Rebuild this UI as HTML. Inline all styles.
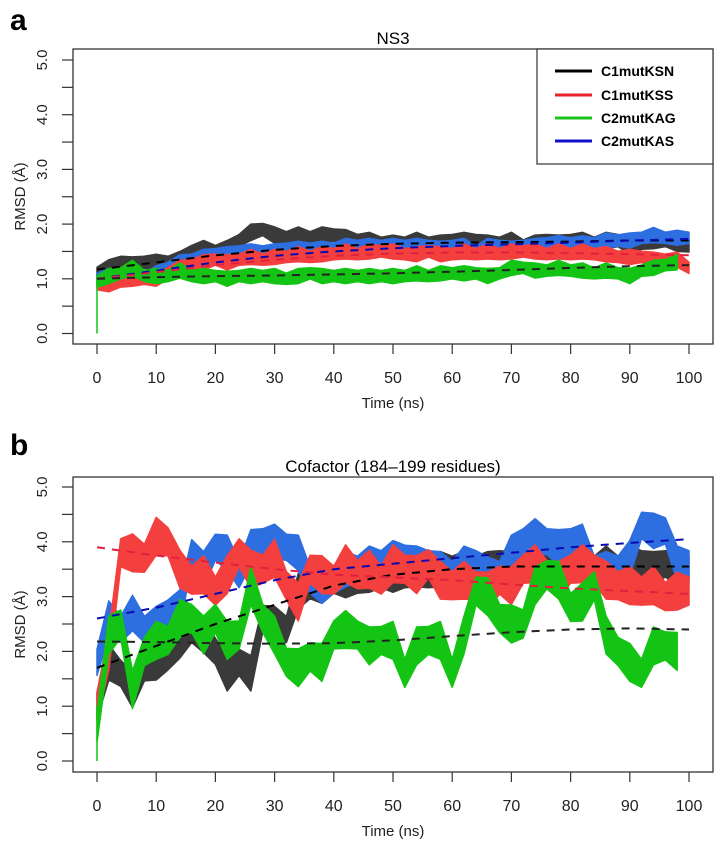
<!DOCTYPE html>
<html><head><meta charset="utf-8"><style>
body{margin:0;background:#fff}
svg{display:block;font-family:"Liberation Sans",sans-serif}
</style></head><body>
<svg id="fig" width="721" height="847" viewBox="0 0 721 847">
<text x="10" y="30" font-size="30" font-weight="bold">a</text>
<text x="10" y="455" font-size="30" font-weight="bold">b</text>
<text x="393" y="44" font-size="17" text-anchor="middle">NS3</text>
<text x="393" y="472" font-size="17" text-anchor="middle">Cofactor (184–199 residues)</text>
<g id="pa"></g>
<g id="pb"></g>
<g>
<rect x="537" y="49" width="176" height="115" fill="#fff" stroke="#333" stroke-width="1.2"/>
<g><line x1="555" y1="71" x2="592" y2="71" stroke="#000" stroke-width="3"/><text x="601" y="76" font-size="14" font-weight="bold">C1mutKSN</text></g>
<g><line x1="555" y1="95" x2="592" y2="95" stroke="#e8232a" stroke-width="3"/><text x="601" y="100" font-size="14" font-weight="bold">C1mutKSS</text></g>
<g><line x1="555" y1="118" x2="592" y2="118" stroke="#1fc11f" stroke-width="3"/><text x="601" y="123" font-size="14" font-weight="bold">C2mutKAG</text></g>
<g><line x1="555" y1="141" x2="592" y2="141" stroke="#1010c8" stroke-width="3"/><text x="601" y="146" font-size="14" font-weight="bold">C2mutKAS</text></g>
</g>
</svg>
<script>
const times=[0,2,4,6,8,10,12,14,16,18,20,22,24,26,28,30,32,34,36,38,40,42,44,46,48,50,52,54,56,58,60,62,64,66,68,70,72,74,76,78,80,82,84,86,88,90,92,94,96,98,100];
const trendTimes=[0,10,20,30,40,50,60,70,80,90,100];
const xTicks=[0,10,20,30,40,50,60,70,80,90,100];
const yTickLabels=["0.0","1.0","2.0","3.0","4.0","5.0"];
const seriesNames=["C1mutKSN","C2mutKAS","C1mutKSS","C2mutKAG"];
const colors=["#3a3a3a","#2d6ee0","#f43f3f","#14c414"];
const trendColors=["#000","#0a0ab0","#e02040","#222"];
// Panel A (NS3)
const aKSN=[1.1,1.2,1.3,1.25,1.3,1.3,1.3,1.35,1.5,1.55,1.5,1.55,1.7,1.85,1.9,1.8,1.75,1.8,1.75,1.8,1.8,1.75,1.7,1.7,1.65,1.65,1.65,1.7,1.65,1.65,1.7,1.7,1.7,1.65,1.65,1.7,1.6,1.65,1.7,1.65,1.7,1.7,1.65,1.7,1.7,1.6,1.65,1.7,1.7,1.65,1.6];
const aKAS=[1.0,1.05,1.05,1.1,1.0,1.1,1.2,1.3,1.35,1.4,1.45,1.45,1.5,1.5,1.5,1.5,1.55,1.55,1.55,1.55,1.55,1.6,1.6,1.6,1.6,1.6,1.6,1.6,1.6,1.55,1.6,1.6,1.5,1.6,1.6,1.55,1.6,1.6,1.65,1.65,1.65,1.65,1.65,1.7,1.7,1.7,1.75,1.8,1.75,1.75,1.75];
const aKSS=[0.9,0.9,0.95,1.0,1.0,1.0,1.1,1.2,1.25,1.3,1.35,1.3,1.35,1.4,1.35,1.4,1.4,1.45,1.4,1.45,1.45,1.5,1.45,1.5,1.5,1.5,1.45,1.45,1.5,1.45,1.45,1.5,1.45,1.5,1.45,1.5,1.5,1.5,1.45,1.5,1.45,1.5,1.45,1.45,1.4,1.4,1.4,1.35,1.35,1.35,1.2];
const aKAG=[0.95,1.05,1.1,1.2,1.05,1.05,1.05,1.15,1.05,1.05,1.05,1.0,1.05,1.05,1.05,1.05,1.0,1.05,1.1,1.05,1.05,1.05,1.05,1.05,1.05,1.05,1.05,1.1,1.05,1.1,1.1,1.1,1.1,1.05,1.1,1.2,1.2,1.15,1.15,1.2,1.15,1.15,1.1,1.15,1.1,1.05,1.15,1.2,1.25,1.3,null];
const aWidth=[0.13,0.12,0.12,0.12];
const aTrendKSN=[1.17,1.3,1.43,1.53,1.6,1.64,1.66,1.67,1.68,1.7,1.7];
const aTrendKAS=[1.0,1.15,1.3,1.42,1.5,1.56,1.6,1.63,1.66,1.7,1.73];
const aTrendKSS=[1.0,1.12,1.25,1.35,1.42,1.46,1.48,1.48,1.47,1.45,1.43];
const aTrendKAG=[1.0,1.03,1.05,1.06,1.08,1.1,1.13,1.16,1.2,1.23,1.25];
// Panel B (Cofactor)
const bKSN=[1.0,1.8,1.6,1.3,1.7,1.8,1.9,2.2,2.4,2.3,2.0,1.6,1.8,1.6,2.6,2.5,2.4,3.1,3.2,3.2,3.3,3.3,3.3,3.4,3.4,3.4,3.4,3.5,3.4,3.5,3.5,3.5,3.5,3.5,3.6,3.5,3.5,3.6,3.6,3.6,3.5,3.6,3.5,3.6,3.5,3.6,3.6,3.5,3.6,3.5,3.5];
const bKAS=[1.8,2.6,2.4,2.7,2.4,2.5,2.7,2.8,3.8,3.5,3.9,3.8,3.4,3.9,4.0,4.0,3.9,3.8,3.3,3.2,3.3,3.5,3.5,3.6,3.6,3.7,3.7,3.6,3.6,3.5,3.4,3.6,3.6,3.4,3.4,3.8,4.0,4.1,4.0,3.9,4.0,4.0,3.5,3.5,3.5,3.7,4.3,4.2,4.2,3.6,3.6];
const bKSS=[1.0,2.0,3.8,3.8,3.7,4.1,4.0,3.5,3.3,3.4,3.1,3.4,3.8,3.5,3.5,3.7,3.2,2.9,3.5,3.4,3.3,3.6,3.4,3.5,3.3,3.6,3.5,3.4,3.6,3.3,3.2,3.3,3.2,3.1,3.3,3.2,3.5,3.6,3.4,3.3,3.5,3.6,3.5,3.3,3.2,3.2,3.1,3.2,3.0,3.1,3.1];
const bKAG=[0.6,2.3,2.5,1.3,2.0,2.2,2.2,2.6,2.6,2.3,2.6,2.2,2.3,3.2,2.6,2.3,1.8,1.7,1.9,1.8,2.3,2.4,2.3,2.1,2.2,2.2,1.6,2.1,2.2,2.2,1.6,2.3,3.1,3.0,2.6,2.5,2.5,3.2,3.4,3.3,2.8,2.9,3.2,2.3,2.0,1.8,1.6,2.1,2.1,2.0,null];
const bWidth=[0.28,0.28,0.3,0.3];
const bTrendKSN=[1.7,2.1,2.5,2.85,3.2,3.4,3.5,3.55,3.55,3.55,3.55];
const bTrendKAS=[2.6,2.8,3.05,3.3,3.5,3.6,3.7,3.8,3.9,3.98,4.05];
const bTrendKSS=[3.9,3.75,3.62,3.5,3.4,3.35,3.3,3.22,3.15,3.1,3.05];
const bTrendKAG=[2.18,2.17,2.15,2.14,2.15,2.2,2.28,2.35,2.4,2.42,2.4];

const NS="http://www.w3.org/2000/svg";
function mk(tag,attrs,parent){const e=document.createElementNS(NS,tag);for(const k in attrs)e.setAttribute(k,attrs[k]);parent.appendChild(e);return e;}
const xScale=t=>97+t*5.92;

function drawPanel(g,y0,unit,box,series,widths,trends,prefix){
  const yScale=v=>y0-unit*v;
  const f=mk('rect',{x:73,y:box[0],width:640,height:box[1]-box[0],fill:'none',stroke:'#333','stroke-width':1.3},g);
  
  
  series.forEach((vals,si)=>{
    let top=[],bot=[];
    vals.forEach((v,i)=>{if(v===null)return;const t=times[i];
      const jig=(i%2?1:-1)*widths[si]*0.15;
      top.push(xScale(t).toFixed(1)+','+yScale(v+widths[si]+jig).toFixed(1));
      bot.unshift(xScale(t).toFixed(1)+','+yScale(v-widths[si]-jig).toFixed(1));});
    const band=mk('polygon',{points:top.concat(bot).join(' '),fill:colors[si],stroke:colors[si],'stroke-width':1.5,'stroke-linejoin':'round'},g);
    
    
  });
  const sp=mk('line',{x1:xScale(0),y1:yScale(0),x2:xScale(0),y2:yScale(1.0),stroke:colors[3],'stroke-width':1.5},g);
  
  
  trends.forEach((tr,si)=>{
    const pts=tr.map((v,i)=>xScale(trendTimes[i]).toFixed(1)+','+yScale(v).toFixed(1)).join(' ');
    const pl=mk('polyline',{points:pts,fill:'none',stroke:trendColors[si],'stroke-width':2,'stroke-dasharray':'8 7'},g);
    
    
  });
  yTickLabels.forEach((lab,i)=>{
    const y=yScale(i);
    const tk=mk('line',{x1:62,y1:y,x2:73,y2:y,stroke:'#333','stroke-width':1.2},g);
    
    
    const tx=mk('text',{x:0,y:0,transform:`translate(47,${y}) rotate(-90)`,'font-size':15,'text-anchor':'middle',fill:'#222'},g);
    tx.textContent=lab;
    
    
    if(i<5){const m=mk('line',{x1:62,y1:yScale(i+0.5),x2:73,y2:yScale(i+0.5),stroke:'#333','stroke-width':1.2},g);
      
      }
  });
  xTicks.forEach(t=>{
    const x=xScale(t);
    const tk=mk('line',{x1:x,y1:box[1],x2:x,y2:box[1]+10,stroke:'#333','stroke-width':1.2},g);
    
    
    const tx=mk('text',{x:x,y:box[1]+39,'font-size':16,'text-anchor':'middle',fill:'#222'},g);
    tx.textContent=t;
    
    
  });
  const xt=mk('text',{x:393,y:box[1]+64,'font-size':15,'text-anchor':'middle',fill:'#222'},g);
  xt.textContent='Time (ns)';
  
  
  const yt=mk('text',{x:0,y:0,transform:`translate(25,${(box[0]+box[1])/2}) rotate(-90)`,'font-size':15,'text-anchor':'middle',fill:'#222'},g);
  yt.textContent='RMSD (Å)';
  
  
}
drawPanel(document.getElementById('pa'),333.5,54.7,[49,344],[aKSN,aKAS,aKSS,aKAG],aWidth,[aTrendKSN,aTrendKAS,aTrendKSS,aTrendKAG],'a');
drawPanel(document.getElementById('pb'),761,54.8,[477,772],[bKSN,bKAS,bKSS,bKAG],bWidth,[bTrendKSN,bTrendKAS,bTrendKSS,bTrendKAG],'b');
</script>
</body></html>
